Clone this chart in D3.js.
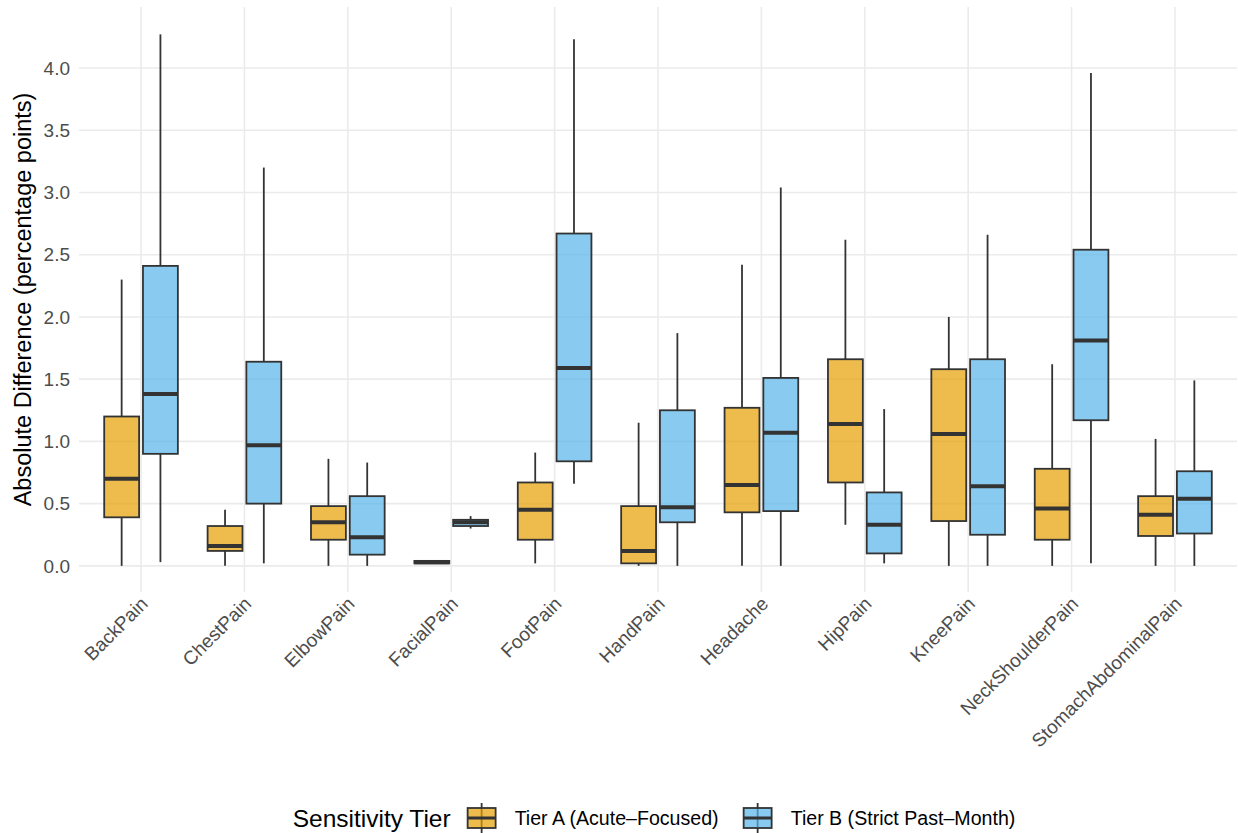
<!DOCTYPE html>
<html lang="en">
<head>
    <meta charset="UTF-8">
    <title>Absolute Difference by Pain Site and Sensitivity Tier</title>
    <script src="https://d3js.org/d3.v7.min.js"></script>
    <style>
        body { margin: 0; background: #fff; }
        svg { font-family: "Liberation Sans", Arial, Helvetica, sans-serif; }
        .grid line { stroke: #ebebeb; stroke-width: 1.6px; }
        .tick-label { fill: #4d4d4d; font-size: 19px; }
        .box { stroke: #333; stroke-width: 1.8px; }
        .whisker { stroke: #333; stroke-width: 1.8px; }
        .median { stroke: #333; stroke-width: 4px; }
    </style>
</head>
<body>
    <svg width="1238" height="833"></svg>
    <script>
        const width = 1238;
        const height = 833;

        // categories on the x axis
        const categories = ["BackPain", "ChestPain", "ElbowPain", "FacialPain", "FootPain", "HandPain",
            "Headache", "HipPain", "KneePain", "NeckShoulderPain", "StomachAbdominalPain"];

        // box stats per category: [lower whisker, q1, median, q3, upper whisker]
        const tierA = [
            [0.00, 0.39, 0.70, 1.20, 2.30],
            [0.00, 0.12, 0.16, 0.32, 0.45],
            [0.00, 0.21, 0.35, 0.48, 0.86],
            [0.02, 0.02, 0.03, 0.04, 0.04],
            [0.02, 0.21, 0.45, 0.67, 0.91],
            [0.00, 0.02, 0.12, 0.48, 1.15],
            [0.00, 0.43, 0.65, 1.27, 2.42],
            [0.33, 0.67, 1.14, 1.66, 2.62],
            [0.00, 0.36, 1.06, 1.58, 2.00],
            [0.00, 0.21, 0.46, 0.78, 1.62],
            [0.00, 0.24, 0.41, 0.56, 1.02]
        ];
        const tierB = [
            [0.03, 0.90, 1.38, 2.41, 4.27],
            [0.02, 0.50, 0.97, 1.64, 3.20],
            [0.00, 0.09, 0.23, 0.56, 0.83],
            [0.30, 0.32, 0.35, 0.37, 0.40],
            [0.66, 0.84, 1.59, 2.67, 4.23],
            [0.00, 0.35, 0.47, 1.25, 1.87],
            [0.00, 0.44, 1.07, 1.51, 3.04],
            [0.02, 0.10, 0.33, 0.59, 1.26],
            [0.00, 0.25, 0.64, 1.66, 2.66],
            [0.02, 1.17, 1.81, 2.54, 3.96],
            [0.00, 0.26, 0.54, 0.76, 1.49]
        ];

        const yTicks = [0, 0.5, 1, 1.5, 2, 2.5, 3, 3.5, 4];
        const tiers = ["Tier A (Acute\u2013Focused)", "Tier B (Strict Past\u2013Month)"];
        const colors = ["#E69F00", "#56B4E9"];

        const panel = {left: 79, right: 1237, top: 7, bottom: 592};

        const svg = d3.select("svg");

        const x = d3.scalePoint()
            .domain(categories)
            .range([panel.left, panel.right])
            .padding(0.6);
        const step = x.step();

        const y = d3.scaleLinear()
            .domain([-0.21, 4.49])
            .range([panel.bottom, panel.top]);

        // grid
        const grid = svg.append("g").attr("class", "grid");
        grid.selectAll(".h").data(yTicks).enter().append("line")
            .attr("x1", panel.left).attr("x2", panel.right)
            .attr("y1", d => y(d)).attr("y2", d => y(d));
        grid.selectAll(".v").data(categories).enter().append("line")
            .attr("x1", d => x(d)).attr("x2", d => x(d))
            .attr("y1", panel.top).attr("y2", panel.bottom);

        // y axis labels
        svg.selectAll(".ylab").data(yTicks).enter().append("text")
            .attr("class", "tick-label")
            .attr("x", 70)
            .attr("y", d => y(d))
            .attr("dy", "0.35em")
            .attr("text-anchor", "end")
            .text(d => d.toFixed(1));

        // x axis labels, rotated 45
        svg.selectAll(".xlab").data(categories).enter().append("text")
            .attr("class", "tick-label")
            .attr("text-anchor", "end")
            .attr("transform", d => `translate(${x(d) + 8},${panel.bottom + 13}) rotate(-45)`)
            .text(d => d);

        // y title
        svg.append("text")
            .attr("transform", `translate(31,${(panel.top + panel.bottom) / 2}) rotate(-90)`)
            .attr("text-anchor", "middle")
            .style("font-size", "23.5px")
            .style("fill", "#000")
            .text("Absolute Difference (percentage points)");

        // boxes
        const boxW = step * 0.3375;
        const offsets = [-step * 0.1875, step * 0.1875];

        function drawBox(g, cx, s, color, w) {
            const [lo, q1, med, q3, hi] = s;
            g.append("line").attr("class", "whisker")
                .attr("x1", cx).attr("x2", cx).attr("y1", y(q3)).attr("y2", y(hi));
            g.append("line").attr("class", "whisker")
                .attr("x1", cx).attr("x2", cx).attr("y1", y(q1)).attr("y2", y(lo));
            g.append("rect").attr("class", "box")
                .attr("x", cx - w / 2).attr("width", w)
                .attr("y", y(q3)).attr("height", Math.max(y(q1) - y(q3), 0.5))
                .attr("fill", color).attr("fill-opacity", 0.7);
            g.append("line").attr("class", "median")
                .attr("x1", cx - w / 2).attr("x2", cx + w / 2)
                .attr("y1", y(med)).attr("y2", y(med));
        }

        [tierA, tierB].forEach((stats, t) => {
            const g = svg.append("g");
            stats.forEach((s, i) => {
                drawBox(g, x(categories[i]) + offsets[t], s, colors[t], boxW);
            });
        });

        // legend, centred under the plot
        const legY = 818;
        const legCenter = 654;
        const leg = svg.append("g");
        const title = leg.append("text")
            .attr("y", legY).attr("dy", "0.35em")
            .style("font-size", "24.5px").style("fill", "#000")
            .text("Sensitivity Tier");

        let cursor = title.node().getComputedTextLength() + 17;
        tiers.forEach((t, i) => {
            const kx = cursor + 14;
            leg.append("line").attr("class", "whisker")
                .attr("x1", kx).attr("x2", kx).attr("y1", legY - 15).attr("y2", legY + 15);
            leg.append("rect").attr("class", "box")
                .attr("x", cursor).attr("y", legY - 10).attr("width", 28).attr("height", 20)
                .attr("fill", colors[i]).attr("fill-opacity", 0.7);
            leg.append("line").attr("class", "median")
                .style("stroke-width", "3px")
                .attr("x1", cursor).attr("x2", cursor + 28).attr("y1", legY).attr("y2", legY);
            const lab = leg.append("text")
                .attr("x", cursor + 28 + 19).attr("y", legY).attr("dy", "0.35em")
                .style("font-size", "19.6px").style("fill", "#000")
                .text(t);
            cursor += 28 + 19 + lab.node().getComputedTextLength() + (i === 0 ? 25 : 0);
        });
        leg.attr("transform", `translate(${legCenter - cursor / 2},0)`);
    </script>
</body>
</html>
